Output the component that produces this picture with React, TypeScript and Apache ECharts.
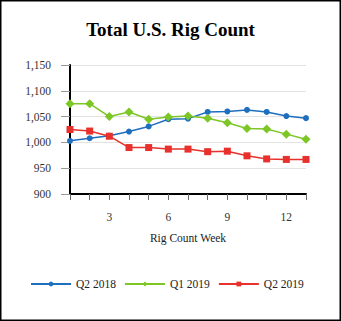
import React, { useEffect, useRef } from "react";
import * as echarts from "echarts";

const weeks = ["1", "2", "3", "4", "5", "6", "7", "8", "9", "10", "11", "12", "13"];
const q22018 = [1003, 1008, 1013, 1021, 1031, 1045, 1046, 1059, 1060, 1063, 1059, 1051, 1047];
const q12019 = [1075, 1075, 1050, 1059, 1045, 1049, 1051, 1047, 1038, 1027, 1026, 1016, 1006];
const q22019 = [1025, 1022, 1012, 990, 990, 987, 987, 982, 983, 974, 968, 967, 967];
const yTicks = { min: 900, max: 1150, interval: 50 };

const FONT = "'Liberation Serif', 'Times New Roman', serif";

export default function App() {
  const ref = useRef<HTMLDivElement>(null);
  useEffect(() => {
    const chart = echarts.init(ref.current!, null, { renderer: "svg" });
    const mk = (name: string, data: number[], color: string, symbol: string, size: number) => ({
      name,
      type: "line",
      data,
      symbol,
      symbolSize: size,
      itemStyle: { color },
      lineStyle: { color, width: 1.5 },
    });
    chart.setOption({
      animation: false,
      backgroundColor: "#fff",
      textStyle: { fontFamily: FONT },
      title: {
        text: "Total U.S. Rig Count",
        left: "center",
        top: 15,
        textStyle: { fontFamily: FONT, fontSize: 19, fontWeight: "bold", color: "#000" },
      },
      graphic: [
        {
          type: "rect",
          shape: { x: 0.75, y: 0.75, width: 339.5, height: 319.5 },
          style: { fill: "none", stroke: "#000", lineWidth: 1.5 },
          z: 100,
        },
      ],
      legend: {
        left: 25,
        top: 273,
        itemWidth: 40,
        itemHeight: 6,
        itemGap: 8,
        textStyle: { fontFamily: FONT, fontSize: 11.5, color: "#222" },
        data: ["Q2 2018", "Q1 2019", "Q2 2019"],
      },
      grid: { left: 70, right: 35, top: 65, bottom: 127 },
      xAxis: {
        type: "category",
        data: weeks,
        boundaryGap: false,
        name: "Rig Count Week",
        nameLocation: "middle",
        nameGap: 38,
        nameTextStyle: { fontFamily: FONT, fontSize: 11.5, color: "#222" },
        axisLine: { lineStyle: { color: "#000", width: 2 } },
        axisTick: { show: true, interval: 0, length: 6, lineStyle: { color: "#666" } },
        axisLabel: {
          interval: (i: number) => (i + 1) % 3 === 0,
          margin: 17,
          fontFamily: FONT,
          fontSize: 11.5,
          color: "#333",
        },
        splitLine: { show: false },
      },
      yAxis: {
        type: "value",
        min: yTicks.min,
        max: yTicks.max,
        interval: yTicks.interval,
        axisLine: { show: true, lineStyle: { color: "#000", width: 2 } },
        axisTick: { show: true, length: 9, lineStyle: { color: "#999" } },
        axisLabel: {
          margin: 19,
          fontFamily: FONT,
          fontSize: 11.5,
          color: "#333",
          formatter: (v: number) => v.toLocaleString("en-US"),
        },
        splitLine: { lineStyle: { color: "#e3e3e3" } },
      },
      series: [
        mk("Q2 2018", q22018, "#1f6fbf", "circle", 6),
        mk("Q1 2019", q12019, "#7cc626", "diamond", 9),
        mk("Q2 2019", q22019, "#e8302c", "rect", 7),
      ],
    });
    return () => chart.dispose();
  }, []);
  return (
    <div
      ref={ref}
      style={{ position: "absolute", left: 0, top: 0, width: 341, height: 321 }}
    />
  );
}
